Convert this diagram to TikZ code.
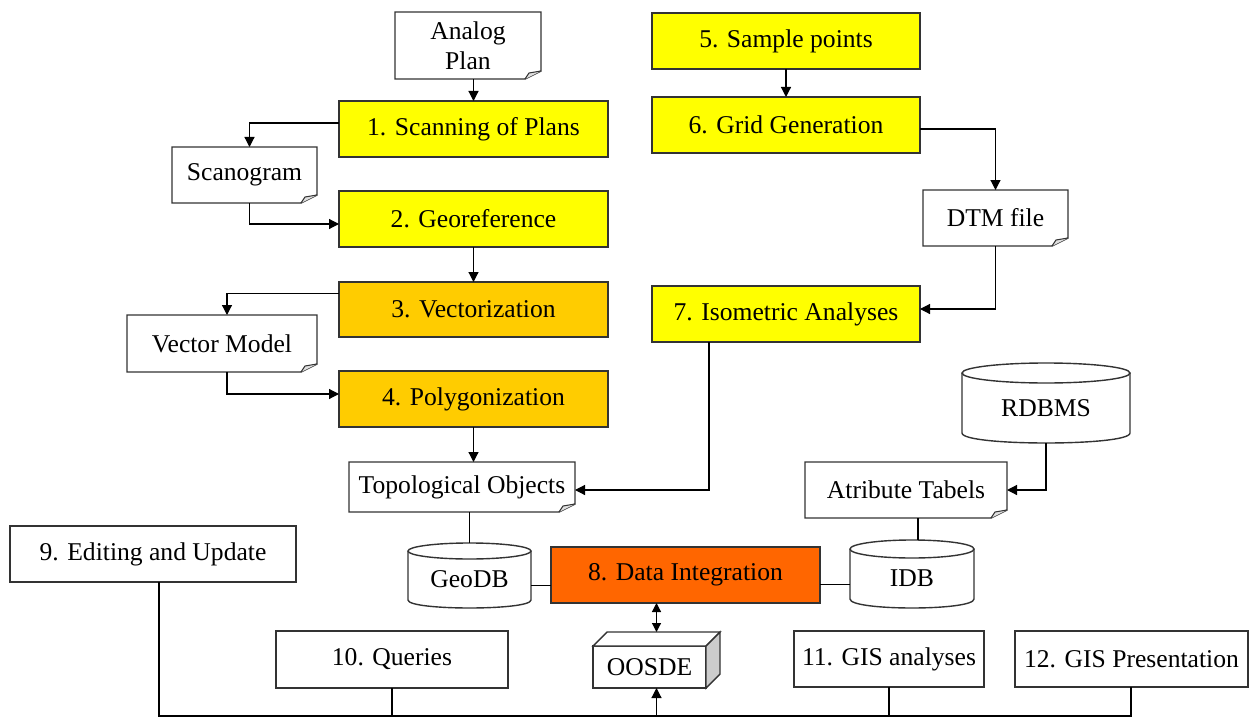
\documentclass[tikz,border=0pt]{standalone}
\usepackage{fontspec}
\setmainfont{Liberation Serif}
\usetikzlibrary{arrows.meta,calc}

\definecolor{yel}{HTML}{FFFF00}
\definecolor{org}{HTML}{FFCC00}
\definecolor{redo}{HTML}{FF6600}
\definecolor{bord}{HTML}{333333}

\tikzset{
 every node/.style={font=\fontsize{12.8}{15}\selectfont, inner sep=0pt, outer sep=0pt, text=black},
 sz/.style 2 args={minimum width=#1*0.5pt, minimum height=#2*0.5pt},
 box/.style={draw=bord, line width=0.7pt},
 ybox/.style={box, fill=yel},
 obox/.style={box, fill=org},
 rbox/.style={box, fill=redo},
 wbox/.style={box, fill=white},
 ghost/.style={align=center},
 outl/.style={draw=bord, line width=0.7pt},
 con/.style={line width=0.6pt, draw=black},
 arr/.style={con, -{Triangle[length=5pt,width=5pt]}},
 darr/.style={con, {Triangle[length=4.5pt,width=4.5pt]}-{Triangle[length=4.5pt,width=4.5pt]}},
}

\newcommand\docshape[1]{%
 \draw[outl] (#1.north west) -- (#1.north east) -- ([yshift=4pt]#1.south east) -- ([xshift=-8pt]#1.south east) -- (#1.south west) -- cycle;
 \filldraw[draw=bord, fill=gray!25, line width=0.5pt] ([xshift=-8pt]#1.south east) -- ([xshift=-6pt,yshift=3pt]#1.south east) -- ([yshift=4pt]#1.south east);
}
\newcommand\cylshape[3]{%
 \draw[outl] (#1.north) ellipse [x radius=#2, y radius=#3];
 \draw[outl] (#1.north west) -- ($(#1.south west)+(0,-#3)$) .. controls +(0,{#3*4/3}) and +(0,{#3*4/3}) .. ($(#1.south east)+(0,-#3)$) -- (#1.north east);
}

\begin{document}
\begin{tikzpicture}[x=0.5pt,y=-0.5pt]
\fill[white] (0,0) rectangle (1253,717);
\useasboundingbox (0,0) rectangle (1253,717);

% left column
\node[ghost, sz={146}{67}] (analog) at (468,45.5) {Analog\\Plan};
\docshape{analog}
\node[ybox, sz={269}{56}] (scan) at (473.5,129) {1. Scanning of Plans};
\node[ghost, sz={145}{56}] (scanogram) at (244.5,175) {Scanogram};
\docshape{scanogram}
\node[ybox, sz={269}{56}] (georef) at (473.5,219) {2. Georeference};
\node[obox, sz={269}{55}] (vect) at (473.5,309.5) {3. Vectorization};
\node[ghost, sz={190}{57}] (vmodel) at (222,343.5) {Vector Model};
\docshape{vmodel}
\node[obox, sz={269}{56}] (poly) at (473.5,399) {4. Polygonization};
\node[ghost, sz={226}{50}] (topo) at (462,487) {Topological Objects};
\docshape{topo}

% right column
\node[ybox, sz={268}{56}] (sample) at (786,41) {5. Sample points};
\node[ybox, sz={268}{56}] (grid) at (786,125) {6. Grid Generation};
\node[ghost, sz={145}{56}] (dtm) at (995.5,218) {DTM file};
\docshape{dtm}
\node[ybox, sz={268}{56}] (iso) at (786,314) {7. Isometric Analyses};

% databases
\node[ghost, sz={168}{70}] (rdbms) at (1046,408) {RDBMS};
\cylshape{rdbms}{84}{10}
\node[ghost, sz={202}{56}] (attr) at (906,490) {Atribute Tabels};
\docshape{attr}
\node[ghost, sz={123}{57}] (geodb) at (469.5,579.5) {GeoDB};
\cylshape{geodb}{61.5}{8}
\node[ghost, sz={124}{59}] (idb) at (912,578.5) {IDB};
\cylshape{idb}{62}{9}
\node[rbox, sz={269}{56}] (integ) at (685.5,575) {8. Data Integration};

% bottom row
\node[wbox, sz={286}{56}] (edit) at (153,554) {9. Editing and Update};
\node[wbox, sz={232}{57}] (queries) at (392,659.5) {10. Queries};
\node[wbox, sz={113}{42}] (oosde) at (649.5,667) {OOSDE};
\draw[outl, fill=white] (oosde.north west) -- ++(14,-14) -- ($(oosde.north east)+(14,-14)$) -- (oosde.north east) -- cycle;
\draw[outl, fill=gray!40] (oosde.north east) -- ++(14,-14) -- ($(oosde.south east)+(14,-14)$) -- (oosde.south east) -- cycle;
\coordinate (otop) at ($(oosde.north)+(7,-14)$);
\node[wbox, sz={190}{56}] (gisa) at (889,659) {11. GIS analyses};
\node[wbox, sz={233}{56}] (gisp) at (1131.5,659) {12. GIS Presentation};

% connectors left
\draw[arr] (scan.north |- analog.south) -- (scan.north);
\draw[arr] ([yshift=3pt]scan.west) -| ([xshift=2.5pt]scanogram.north);
\draw[arr] ([xshift=2.5pt]scanogram.south) |- ([yshift=-2.5pt]georef.west);
\draw[arr] (georef.south) -- (vect.north);
\draw[arr] ([yshift=8pt]vect.west) -| ([xshift=2.5pt]vmodel.north);
\draw[arr] ([xshift=2.5pt]vmodel.south) |- ([yshift=2.5pt]poly.west);
\draw[arr] (poly.south) -- (poly.south |- topo.north);

% connectors right
\draw[arr] (sample.south) -- (grid.north);
\draw[arr] ([yshift=-2pt]grid.east) -| (dtm.north);
\draw[arr] (dtm.south) |- ([yshift=2.5pt]iso.east);
\draw[arr] ([xshift=28.5pt]iso.south west) |- ([yshift=-1.5pt]topo.east);
\draw[arr] (rdbms.south) |- (attr.east);

% plain links
\draw[con] (geodb.north |- topo.south) -- ($(geodb.north)+(0,-8)$);
\draw[con] ([xshift=3pt]idb.north |- attr.south) -- ($([xshift=3pt]idb.north)+(0,-9)$);
\draw[con] ([yshift=-3pt]geodb.east) -- ([yshift=-3pt]geodb.east -| integ.west);
\draw[con] ([yshift=-3pt]idb.west) -- ([yshift=-3pt]idb.west -| integ.east);
\draw[darr] (otop |- integ.south) -- (otop);

% bus
\coordinate (bl) at (159,716);
\coordinate (br) at (1131,716);
\draw[con] ([xshift=3pt]edit.south) |- (br) -- (br |- gisp.south);
\draw[con] (queries.south) -- (queries.south |- bl);
\draw[con] (gisa.south) -- (gisa.south |- bl);
\draw[arr] (otop |- bl) -- (otop |- oosde.south);
\end{tikzpicture}
\end{document}
